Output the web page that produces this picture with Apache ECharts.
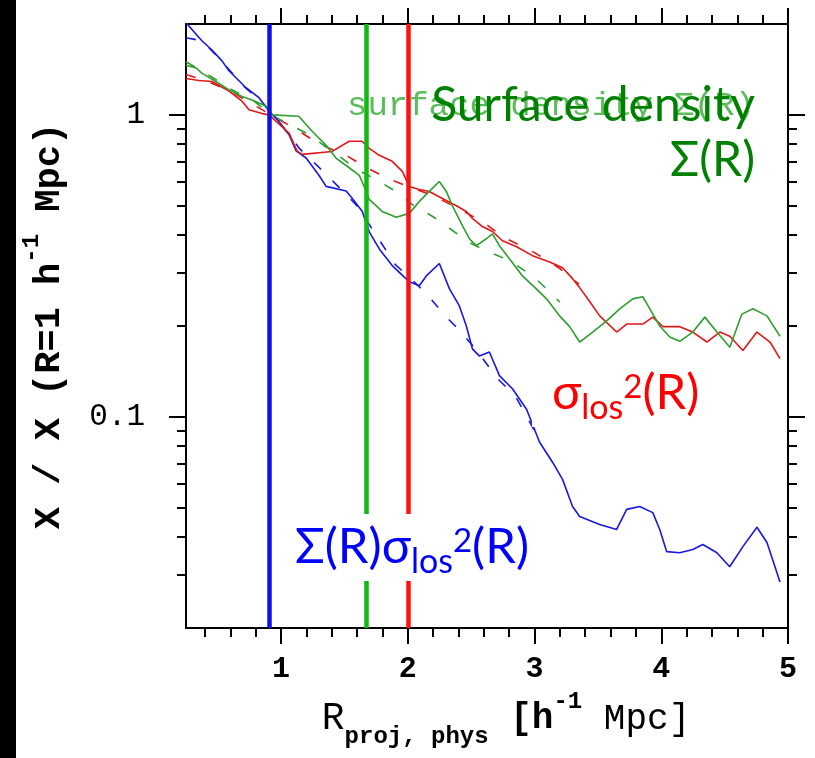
<!DOCTYPE html>
<html>
<head>
<meta charset="utf-8">
<script src="https://cdn.jsdelivr.net/npm/echarts@6/dist/echarts.min.js"></script>
<style>
  html, body { margin: 0; padding: 0; background: #fff; }
  #chart { width: 815px; height: 758px; }
</style>
</head>
<body>
<div id="chart"></div>
<script>
// R_proj [h^-1 Mpc] -> X / X(R=1)
const productSolid = [
  [0.25, 2.02], [0.375, 1.76], [0.455, 1.64], [0.534, 1.51], [0.589, 1.40], [0.723, 1.23],
  [0.826, 1.14], [0.905, 1.03], [0.984, 0.95], [1.063, 0.86], [1.119, 0.76], [1.198, 0.72],
  [1.30, 0.63], [1.356, 0.58], [1.514, 0.56], [1.561, 0.53], [1.64, 0.48], [1.696, 0.41],
  [1.775, 0.36], [1.877, 0.317], [2.012, 0.28], [2.091, 0.272], [2.146, 0.293], [2.249, 0.322],
  [2.328, 0.266], [2.407, 0.233], [2.462, 0.200], [2.51, 0.168], [2.565, 0.159], [2.644, 0.164],
  [2.723, 0.137], [2.826, 0.124], [2.937, 0.106], [3.04, 0.0824], [3.142, 0.0708], [3.221, 0.0621],
  [3.30, 0.0505], [3.356, 0.0468], [3.514, 0.044], [3.648, 0.0424], [3.727, 0.0494], [3.83, 0.0505],
  [3.933, 0.0482], [3.988, 0.0424], [4.043, 0.0358], [4.146, 0.0355], [4.249, 0.0364], [4.328, 0.0378],
  [4.439, 0.0355], [4.54, 0.0319], [4.644, 0.0372], [4.755, 0.0431], [4.834, 0.0384], [4.937, 0.0284]
];
const productDash = [
  [0.25, 1.80], [0.375, 1.76], [0.5, 1.56], [0.7, 1.25], [0.85, 1.10], [0.95, 0.99], [1.15, 0.77],
  [1.3, 0.67], [1.45, 0.58], [1.6, 0.50], [1.75, 0.40], [1.9, 0.32], [2.05, 0.28], [2.15, 0.255],
  [2.3, 0.215], [2.4, 0.195], [2.55, 0.165], [2.7, 0.135], [2.85, 0.117], [3.0, 0.09]
];
const sigmaSolid = [
  [0.25, 1.32], [0.352, 1.30], [0.455, 1.29], [0.589, 1.20], [0.692, 1.11], [0.747, 1.04],
  [0.85, 1.01], [0.905, 1.0], [1.063, 0.87], [1.126, 0.76], [1.166, 0.74], [1.403, 0.757],
  [1.538, 0.818], [1.64, 0.818], [1.696, 0.775], [1.775, 0.735], [1.877, 0.702], [1.957, 0.65],
  [2.012, 0.579], [2.091, 0.566], [2.17, 0.558], [2.273, 0.529], [2.383, 0.50], [2.462, 0.479],
  [2.51, 0.454], [2.589, 0.427], [2.668, 0.411], [2.747, 0.383], [2.858, 0.366], [2.984, 0.342],
  [3.119, 0.326], [3.221, 0.312], [3.30, 0.287], [3.356, 0.268], [3.435, 0.241], [3.514, 0.216],
  [3.648, 0.191], [3.727, 0.203], [3.854, 0.203], [3.933, 0.214], [4.012, 0.199], [4.146, 0.199],
  [4.249, 0.191], [4.36, 0.177], [4.462, 0.191], [4.541, 0.185], [4.644, 0.166], [4.755, 0.191],
  [4.858, 0.177], [4.937, 0.156]
];
const sigmaDash = [
  [0.25, 1.36], [0.4, 1.30], [0.6, 1.20], [0.8, 1.07], [0.92, 1.0], [1.15, 0.88], [1.3, 0.80],
  [1.5, 0.74], [1.7, 0.66], [1.85, 0.615], [2.0, 0.58], [2.2, 0.54], [2.4, 0.49], [2.6, 0.44],
  [2.75, 0.395], [3.0, 0.35], [3.2, 0.31], [3.35, 0.275]
];
const densitySolid = [
  [0.25, 1.46], [0.33, 1.43], [0.375, 1.375], [0.486, 1.29], [0.589, 1.21], [0.692, 1.15],
  [0.771, 1.12], [0.88, 1.07], [0.93, 1.0], [1.14, 0.99], [1.245, 0.883], [1.356, 0.793],
  [1.435, 0.718], [1.514, 0.68], [1.617, 0.631], [1.672, 0.558], [1.696, 0.525], [1.798, 0.479],
  [1.909, 0.458], [2.012, 0.472], [2.091, 0.517], [2.17, 0.558], [2.249, 0.602], [2.304, 0.558],
  [2.352, 0.50], [2.431, 0.43], [2.486, 0.389], [2.541, 0.369], [2.62, 0.389], [2.668, 0.404],
  [2.723, 0.369], [2.802, 0.334], [2.905, 0.293], [3.016, 0.265], [3.095, 0.246], [3.198, 0.216],
  [3.277, 0.199], [3.356, 0.177], [3.459, 0.191], [3.569, 0.208], [3.672, 0.228], [3.775, 0.246],
  [3.854, 0.25], [3.91, 0.228], [3.988, 0.2], [4.067, 0.184], [4.146, 0.178], [4.249, 0.191],
  [4.344, 0.214], [4.439, 0.191], [4.541, 0.17], [4.636, 0.219], [4.723, 0.228], [4.834, 0.216],
  [4.937, 0.185]
];
const densityDash = [
  [0.25, 1.50], [0.4, 1.38], [0.6, 1.22], [0.8, 1.10], [0.92, 1.0], [1.2, 0.87], [1.4, 0.76],
  [1.6, 0.66], [1.75, 0.61], [1.9, 0.56], [2.05, 0.50], [2.2, 0.46], [2.35, 0.415], [2.5, 0.375],
  [2.65, 0.35], [2.8, 0.33], [3.0, 0.29], [3.2, 0.24]
];
// vertical markers: blue, green, red
const markerR = [0.91, 1.67, 2.0];
const markerColors = ['#1010e6', '#10b810', '#ff1010'];

const xMajor = [1, 2, 3, 4, 5];
const xMinor = [0.4, 0.6, 0.8, 1.2, 1.4, 1.6, 1.8, 2.2, 2.4, 2.6, 2.8, 3.2, 3.4, 3.6, 3.8,
  4.2, 4.4, 4.6, 4.8];
const yMajor = [0.1, 1];
const yMinor = [0.03, 0.04, 0.05, 0.06, 0.07, 0.08, 0.09, 0.2, 0.3, 0.4, 0.5, 0.6, 0.7, 0.8, 0.9];

const BLUE = '#1818e0', RED = '#e21818', GREEN = '#2e9e2e';
const MONO = 'Liberation Mono';

const chart = echarts.init(document.getElementById('chart'));

function xAxisOf(position, ticks, length, line, labels) {
  return {
    type: 'value', position: position, min: 0.25, max: 5,
    axisLine: { show: line, onZero: false, lineStyle: { color: '#000', width: 2 } },
    axisTick: { show: true, inside: false, length: length, customValues: ticks,
      lineStyle: { color: '#000', width: 2 } },
    axisLabel: labels ? { show: true, customValues: ticks, margin: 26, fontFamily: MONO,
      fontSize: 30, fontWeight: 'bold', color: '#000' } : { show: false },
    splitLine: { show: false }
  };
}
function yAxisOf(position, ticks, length, line, labels) {
  return {
    type: 'log', logBase: 10, position: position, min: 0.02, max: 2,
    axisLine: { show: line, onZero: false, lineStyle: { color: '#000', width: 2 } },
    axisTick: { show: true, inside: false, length: length, customValues: ticks,
      lineStyle: { color: '#000', width: 2 } },
    axisLabel: labels ? { show: true, customValues: ticks, margin: 41, fontFamily: MONO,
      fontSize: 31, color: '#000' } : { show: false },
    splitLine: { show: false },
    minorTick: { show: false }
  };
}

const xBottom = xAxisOf('bottom', xMajor, 16, true, true);
xBottom.name = '{r|R}{sub|proj, phys}{b| [h}{sup|-1}{t| Mpc]}';
xBottom.nameLocation = 'middle';
xBottom.nameGap = 69;
xBottom.nameTextStyle = {
  padding: [0, 0, 0, 38],
  rich: {
    r: { fontFamily: MONO, fontSize: 38, lineHeight: 44, color: '#000' },
    sub: { fontFamily: MONO, fontSize: 24, fontWeight: 'bold', lineHeight: 30, padding: [36, 0, 0, 0], color: '#000' },
    b: { fontFamily: MONO, fontSize: 36, fontWeight: 'bold', lineHeight: 44, color: '#000' },
    sup: { fontFamily: MONO, fontSize: 24, fontWeight: 'bold', lineHeight: 30, padding: [0, 0, 34, 0], color: '#000' },
    t: { fontFamily: MONO, fontSize: 36, lineHeight: 44, color: '#000' }
  }
};

const yLeft = yAxisOf('left', yMajor, 17, true, true);
yLeft.name = '{t|X / X (R=1 h}{sup|-1}{t| Mpc)}';
yLeft.nameLocation = 'middle';
yLeft.nameRotate = 90;
yLeft.nameGap = 109;
yLeft.nameTextStyle = {
  rich: {
    t: { fontFamily: MONO, fontSize: 37, fontWeight: 'bold', lineHeight: 44, color: '#000' },
    sup: { fontFamily: MONO, fontSize: 24, fontWeight: 'bold', lineHeight: 30, padding: [0, 0, 34, 0], color: '#000' }
  }
};

function lineSeries(name, data, color, dashed) {
  return {
    name: name, type: 'line', data: data, xAxisIndex: 0, yAxisIndex: 0,
    showSymbol: false, symbol: 'none', smooth: false, clip: true, silent: true,
    lineStyle: { color: color, width: 1.6, type: dashed ? [10, 16] : 'solid' }
  };
}

const series = [
  lineSeries('product dashed', productDash, BLUE, true),
  lineSeries('sigma dashed', sigmaDash, RED, true),
  lineSeries('density dashed', densityDash, GREEN, true),
  lineSeries('product', productSolid, BLUE, false),
  lineSeries('sigma', sigmaSolid, RED, false),
  lineSeries('density', densitySolid, GREEN, false)
];
series[series.length - 1].markLine = {
  silent: true, symbol: 'none', animation: false,
  label: { show: false },
  data: markerR.map((r, i) => ({ xAxis: r, lineStyle: { color: markerColors[i], width: 4.5, type: 'solid' } }))
};

// graphic text uses zrender style names, so colour goes in "fill"
const labelRich = (color) => ({
  m: { fontFamily: 'Lato', fontSize: 49, lineHeight: 58, fill: color },
  s: { fontFamily: 'Lato', fontSize: 34, lineHeight: 40, padding: [31, 0, 0, 0], fill: color },
  p: { fontFamily: 'Lato', fontSize: 33, lineHeight: 40, padding: [0, 0, 11, 0], fill: color }
});

chart.setOption({
  animation: false,
  backgroundColor: '#fff',
  grid: { left: 186, right: 27, top: 24, bottom: 130, containLabel: false },
  xAxis: [
    xBottom,
    xAxisOf('bottom', xMinor, 9, false, false),
    xAxisOf('top', xMajor, 16, true, false),
    xAxisOf('top', xMinor, 9, false, false)
  ],
  yAxis: [
    yLeft,
    yAxisOf('left', yMinor, 9, false, false),
    yAxisOf('right', yMajor, 17, true, false),
    yAxisOf('right', yMinor, 9, false, false)
  ],
  series: series,
  graphic: [
    { type: 'rect', left: 0, top: 0, z: 100, shape: { width: 16, height: 758 }, style: { fill: '#000' } },
    { type: 'text', x: 347, y: 86, z: 100,
      style: { text: 'surface density Σ(R)', fontFamily: MONO, fontSize: 34,
        lineHeight: 40, fill: '#5cbc5c', textAlign: 'left', textVerticalAlign: 'top' } },
    { type: 'text', x: 755, y: 78, z: 101,
      style: { text: 'Surface density\nΣ(R)', fontFamily: 'Lato', fontSize: 48, lineHeight: 55,
        fill: '#008000', textAlign: 'right', textVerticalAlign: 'top' } },
    { type: 'text', x: 532, y: 360, z: 101,
      style: { text: '{m|σ}{s|los}{p|2}{m|(R)}', rich: labelRich('#ff0000'),
        backgroundColor: '#fff', padding: [4, 10, 5, 20], textAlign: 'left', textVerticalAlign: 'top' } },
    { type: 'text', x: 275, y: 514, z: 101,
      style: { text: '{m|Σ(R)σ}{s|los}{p|2}{m|(R)}', rich: labelRich('#0000ff'),
        backgroundColor: '#fff', padding: [4, 10, 5, 20], textAlign: 'left', textVerticalAlign: 'top' } }
  ]
});
</script>
</body>
</html>
